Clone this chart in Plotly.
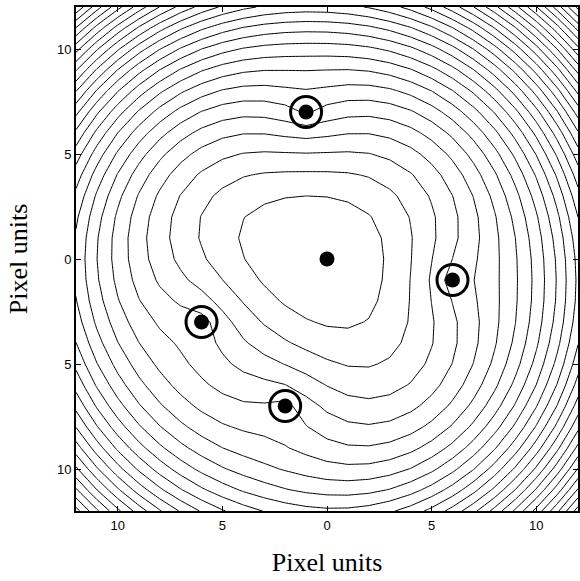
import numpy as np
import plotly.graph_objects as go

# Data
source = [0.0, 0.0]
sensor_x = [-1.0, 6.0, -6.0, -2.0]
sensor_y = [7.0, -1.0, -3.0, -7.0]
ranges = [7.07, 6.78, 6.71, 7.28]
grid = list(range(-12, 13))
tick_vals = [-10, -5, 0, 5, 10]
tick_text = ["10", "5", "0", "5", "10"]
level_start = 20.0
level_step = 21.5

gx = np.array(grid, dtype=float)
gy = np.array(grid, dtype=float)
X, Y = np.meshgrid(gx, gy)
Z = np.zeros_like(X)
for sx, sy, r in zip(sensor_x, sensor_y, ranges):
    Z += (np.hypot(X - sx, Y - sy) - r) ** 2

fig = go.Figure()
fig.add_trace(go.Contour(
    x=gx, y=gy, z=Z,
    contours=dict(coloring="lines", start=level_start, end=1500, size=level_step,
                  showlabels=False),
    line=dict(color="black", width=1, smoothing=0),
    colorscale=[[0, "black"], [1, "black"]],
    showscale=False, hoverinfo="skip",
))
fig.add_trace(go.Scatter(
    x=sensor_x, y=sensor_y, mode="markers",
    marker=dict(size=31, color="rgba(0,0,0,0)", line=dict(color="black", width=3)),
    showlegend=False, hoverinfo="skip",
))
fig.add_trace(go.Scatter(
    x=sensor_x + [source[0]], y=sensor_y + [source[1]], mode="markers",
    marker=dict(size=15, color="black"),
    showlegend=False, hoverinfo="skip",
))

axis_common = dict(
    range=[-12, 12], tickvals=tick_vals, ticktext=tick_text,
    ticks="inside", ticklen=5, tickwidth=1, tickcolor="black",
    showline=True, linecolor="black", linewidth=2, mirror="ticks",
    showgrid=False, zeroline=False, automargin=False,
    tickfont=dict(family="Liberation Sans, Arial", size=13, color="black"),
    title_font=dict(family="Liberation Serif, Times New Roman", size=26, color="black"),
)
fig.update_layout(
    width=580, height=581,
    margin=dict(l=76, r=2, t=7, b=70),
    paper_bgcolor="white", plot_bgcolor="white",
    xaxis=dict(axis_common, ticklabelstandoff=1,
               title=dict(text="Pixel units", standoff=21)),
    yaxis=dict(axis_common, title=dict(text="Pixel units", standoff=22)),
    showlegend=False,
)
fig.write_html("out.html", config={"displayModeBar": False},
               post_script="document.body.style.margin='0';")
